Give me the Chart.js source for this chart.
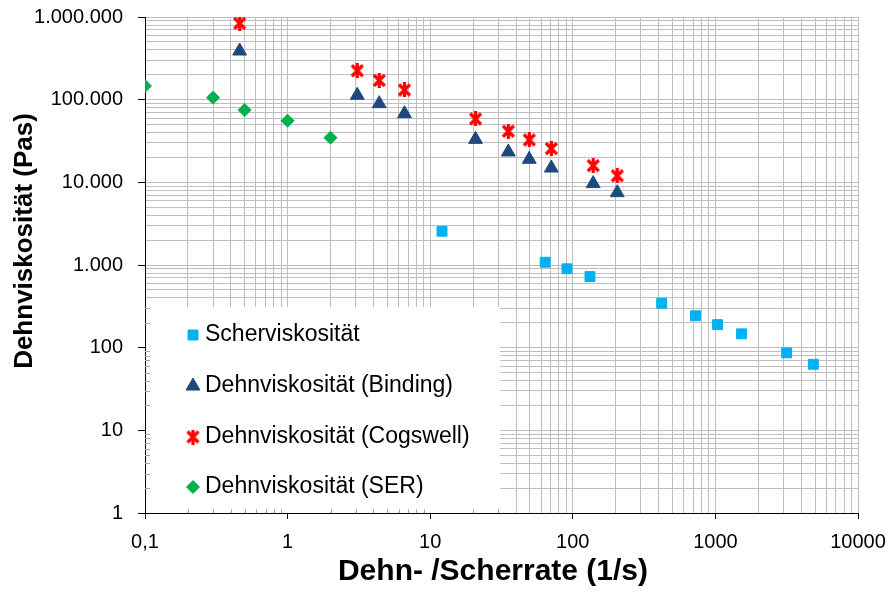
<!DOCTYPE html>
<html lang="de">
<head>
<meta charset="UTF-8">
<title>Dehnviskosität</title>
<script src="https://cdn.jsdelivr.net/npm/chart.js"></script>
<style>
  html, body { margin: 0; padding: 0; background: #fff; }
  #wrap { width: 888px; height: 592px; }
</style>
</head>
<body>
<div id="wrap"><canvas id="chart" width="888" height="592"></canvas></div>
<script>
// Scherviskosität
const shearRate = [12.1, 64, 91, 132, 420, 725, 1035, 1525, 3160, 4860];
const shearVisc = [2560, 1080, 900, 724, 345, 243, 190, 147, 86.5, 63];
// Dehnviskosität, Binding und Cogswell (gleiche Dehnraten)
const extRate = [0.461, 3.08, 4.39, 6.6, 20.8, 35.3, 49.5, 70.7, 139, 205];
const bindingVisc = [388000, 113000, 89500, 67700, 33100, 23300, 19000, 14900, 9650, 7500];
const cogswellVisc = [840000, 224000, 171000, 131000, 58400, 41500, 32600, 25600, 15900, 12000];
// Dehnviskosität SER
const serRate = [0.1, 0.3, 0.5, 1, 2];
const serVisc = [146500, 105700, 75000, 55700, 34700];

const seriesNames = ['Scherviskosität', 'Dehnviskosität (Binding)', 'Dehnviskosität (Cogswell)', 'Dehnviskosität (SER)'];
const xTickValues = [0.1, 1, 10, 100, 1000, 10000];
const xTickLabels = ['0,1', '1', '10', '100', '1000', '10000'];
const yTickValues = [1, 10, 100, 1000, 10000, 100000, 1000000];
const yTickLabels = ['1', '10', '100', '1.000', '10.000', '100.000', '1.000.000'];
const xTitle = 'Dehn- /Scherrate (1/s)';
const yTitle = 'Dehnviskosität (Pas)';

const FONT = '"Liberation Sans", Arial, sans-serif';

// major ticks plus the 2..9 minor ticks in every decade
function withMinor(majors) {
    const out = [];
    for (let i = 0; i < majors.length; i++) {
        out.push({ value: majors[i], major: true });
        if (i < majors.length - 1) {
            for (let k = 2; k <= 9; k++) out.push({ value: majors[i] * k, major: false });
        }
    }
    return out;
}

function pairs(xs, ys) {
    return xs.map((x, i) => ({ x: x, y: ys[i] }));
}

// Excel style star marker (X with a vertical bar)
function makeStar(size, color) {
    const c = document.createElement('canvas');
    c.width = size; c.height = size;
    const g = c.getContext('2d');
    g.strokeStyle = color;
    g.lineWidth = 3.2;
    g.beginPath();
    g.moveTo(2, 2); g.lineTo(size - 2, size - 2);
    g.moveTo(size - 2, 2); g.lineTo(2, size - 2);
    g.moveTo(size / 2, 0); g.lineTo(size / 2, size);
    g.stroke();
    return c;
}
const star = makeStar(15, '#FF0000');

// white legend box inside the plot area, bottom left
const legendInPlot = {
    id: 'legendInPlot',
    beforeDatasetsDraw(chart) {
        const { ctx, chartArea, scales } = chart;
        const left = chartArea.left + 1, top = 307, right = 500, bottom = chartArea.bottom - 0.5;
        ctx.save();
        ctx.fillStyle = '#fff';
        ctx.fillRect(left, top, right - left, bottom - top);

        // small inner minor ticks that show through the box
        ctx.strokeStyle = '#a6a6a6';
        ctx.lineWidth = 1;
        ctx.beginPath();
        scales.y.ticks.forEach(t => {
            if (t.major) return;
            const py = Math.round(scales.y.getPixelForValue(t.value)) + 0.5;
            if (py < top || py > bottom) return;
            ctx.moveTo(chartArea.left, py); ctx.lineTo(chartArea.left + 5, py);
        });
        scales.x.ticks.forEach(t => {
            if (t.major) return;
            const px = Math.round(scales.x.getPixelForValue(t.value)) + 0.5;
            if (px > right) return;
            ctx.moveTo(px, chartArea.bottom); ctx.lineTo(px, chartArea.bottom - 4);
        });
        ctx.stroke();

        const rows = [335, 386, 437, 487];
        chart.data.datasets.forEach((ds, i) => {
            ctx.fillStyle = ds.backgroundColor;
            ctx.strokeStyle = ds.borderColor;
            ctx.lineWidth = ds.borderWidth;
            Chart.helpers.drawPoint(ctx, {
                pointStyle: ds.pointStyle, radius: ds.pointRadius, rotation: 0, borderWidth: ds.borderWidth
            }, 193, rows[i]);
            ctx.fillStyle = '#000';
            ctx.font = '23px ' + FONT;
            ctx.textBaseline = 'middle';
            ctx.textAlign = 'left';
            ctx.fillText(ds.label, 205, rows[i]);
        });
        ctx.restore();
    }
};

// axis titles
const axisTitles = {
    id: 'axisTitles',
    afterDraw(chart) {
        const ctx = chart.ctx;
        ctx.save();
        ctx.fillStyle = '#000';
        ctx.textAlign = 'center';
        ctx.textBaseline = 'middle';
        ctx.font = 'bold 30px ' + FONT;
        ctx.fillText(xTitle, 493, 572);
        ctx.font = 'bold 26px ' + FONT;
        ctx.translate(25, 241);
        ctx.rotate(-Math.PI / 2);
        ctx.fillText(yTitle, 0, 0);
        ctx.restore();
    }
};

new Chart(document.getElementById('chart'), {
    type: 'scatter',
    data: {
        datasets: [
            {
                label: seriesNames[0], data: pairs(shearRate, shearVisc),
                pointStyle: 'rect', pointRadius: 7, borderWidth: 1,
                backgroundColor: '#00B0F0', borderColor: '#00B0F0'
            },
            {
                label: seriesNames[1], data: pairs(extRate, bindingVisc),
                pointStyle: 'triangle', pointRadius: 8, borderWidth: 1,
                backgroundColor: '#1F497D', borderColor: '#1F497D'
            },
            {
                label: seriesNames[2], data: pairs(extRate, cogswellVisc),
                pointStyle: star, pointRadius: 7, borderWidth: 0,
                backgroundColor: '#FF0000', borderColor: '#FF0000'
            },
            {
                label: seriesNames[3], data: pairs(serRate, serVisc),
                pointStyle: 'rectRot', pointRadius: 6.5, borderWidth: 1,
                backgroundColor: '#00B050', borderColor: '#00B050'
            }
        ]
    },
    options: {
        responsive: false,
        animation: false,
        events: [],
        layout: { padding: { left: 0, top: 17, right: 30, bottom: 0 } },
        plugins: { legend: { display: false }, tooltip: { enabled: false } },
        scales: {
            x: {
                type: 'logarithmic',
                min: 0.1, max: 10000,
                afterBuildTicks: s => { s.ticks = withMinor(xTickValues); },
                afterFit: s => { s.height = 79; s.paddingLeft = 0; s.paddingRight = 0; },
                grid: {
                    color: '#bfbfbf', lineWidth: 1, tickLength: 6,
                    tickColor: c => (c.tick && c.tick.major) ? '#000' : 'rgba(0,0,0,0)'
                },
                border: { color: '#000', width: 1 },
                ticks: {
                    autoSkip: false, maxRotation: 0, padding: 11, color: '#000',
                    font: { family: FONT, size: 20 },
                    callback: v => {
                        const i = xTickValues.indexOf(v);
                        return i >= 0 ? xTickLabels[i] : '';
                    }
                }
            },
            y: {
                type: 'logarithmic',
                min: 1, max: 1000000,
                afterBuildTicks: s => { s.ticks = withMinor(yTickValues); },
                afterFit: s => { s.width = 145; s.paddingTop = 0; s.paddingBottom = 0; },
                grid: {
                    color: '#bfbfbf', lineWidth: 1, tickLength: 7,
                    tickColor: c => (c.tick && c.tick.major) ? '#000' : 'rgba(0,0,0,0)'
                },
                border: { color: '#000', width: 1 },
                ticks: {
                    autoSkip: false, padding: 15, color: '#000',
                    font: { family: FONT, size: 20 },
                    callback: v => {
                        const i = yTickValues.indexOf(v);
                        return i >= 0 ? yTickLabels[i] : '';
                    }
                }
            }
        }
    },
    plugins: [legendInPlot, axisTitles]
});
</script>
</body>
</html>
